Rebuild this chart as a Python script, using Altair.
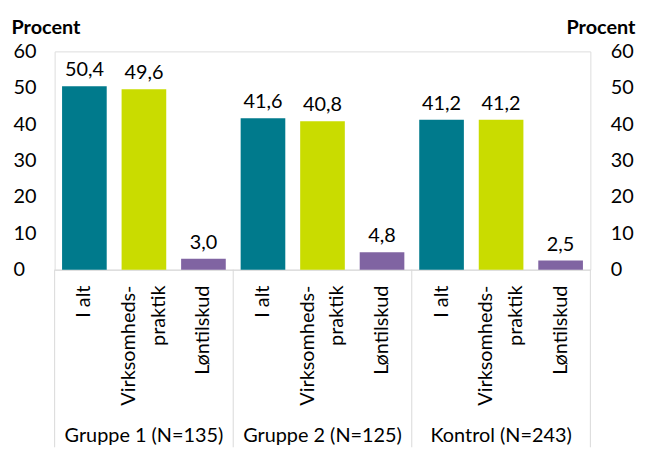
import altair as alt
import pandas as pd

groups = ["Gruppe 1 (N=135)", "Gruppe 2 (N=125)", "Kontrol (N=243)"]
subcats = ["I alt", "Virksomheds-\npraktik", "Løntilskud"]
values_g1 = [50.4, 49.6, 3.0]
values_g2 = [41.6, 40.8, 4.8]
values_g3 = [41.2, 41.2, 2.5]
colors = ["#007A8C", "#C9DC00", "#8064A2"]
y_ticks = [0, 10, 20, 30, 40, 50, 60]

rows = []
for gi, (g, vals) in enumerate(zip(groups, [values_g1, values_g2, values_g3])):
    for si, (s, v) in enumerate(zip(subcats, vals)):
        rows.append({"key": f"{gi}-{si}", "group": g, "sub": s, "value": v,
                     "label": f"{v:.1f}".replace(".", ",")})
df = pd.DataFrame(rows)
keys = list(df["key"])

grp_df = pd.DataFrame({"group": groups, "pos": [i + 0.5 for i in range(len(groups))]})
sep_df = pd.DataFrame({"b": list(range(len(groups) + 1))})

W, H = 540, 220
BOTTOM = 179
FONT = "Lato"
FS = 20
GRAY = "#D9D9D9"

xscale = alt.Scale(domain=keys, paddingInner=0.25, paddingOuter=0.125)
yscale = alt.Scale(domain=[0, 60], nice=False)
qscale = alt.Scale(domain=[0, len(groups)], nice=False, zero=False)

left_axis = alt.Axis(values=y_ticks, orient="left", grid=False, ticks=False, tickSize=0,
                     domain=False, labelAlign="left", labelPadding=42, labelFontSize=FS,
                     labelColor="black", labelFont=FONT,
                     title="Procent", titleAngle=0, titleAlign="left",
                     titleBaseline="alphabetic", titleX=-44, titleY=-18,
                     titleFontSize=FS, titleFontWeight="bold", titleColor="black",
                     titleFont=FONT)
right_axis = alt.Axis(values=y_ticks, orient="right", grid=False, ticks=False, tickSize=0,
                      domain=False, labelAlign="left", labelPadding=20, labelFontSize=FS,
                      labelColor="black", labelFont=FONT,
                      title="Procent", titleAngle=0, titleAlign="right",
                      titleBaseline="alphabetic", titleX=45, titleY=-18,
                      titleFontSize=FS, titleFontWeight="bold", titleColor="black",
                      titleFont=FONT)

bars = alt.Chart(df).mark_bar().encode(
    x=alt.X("key:N", scale=xscale, sort=keys,
            axis=alt.Axis(labels=False, ticks=False, title=None, domainColor=GRAY,
                          domainWidth=1, grid=False)),
    y=alt.Y("value:Q", scale=yscale, axis=left_axis),
    color=alt.Color("sub:N", scale=alt.Scale(domain=subcats, range=colors), legend=None),
)

vlabels = alt.Chart(df).mark_text(dy=-10, baseline="alphabetic", fontSize=FS,
                                  font=FONT, color="black").encode(
    x=alt.X("key:N", scale=xscale, sort=keys, axis=None),
    y=alt.Y("value:Q", scale=yscale, axis=right_axis),
    text="label:N",
)

sub_single = alt.Chart(df).transform_filter(
    "indexof(datum.sub, '\\n') < 0"
).mark_text(angle=270, align="right", baseline="middle", fontSize=FS,
            font=FONT, color="black").encode(
    x=alt.X("key:N", scale=xscale, sort=keys, axis=None),
    y=alt.value(H + 16),
    text="sub:N",
)

sub_multi = alt.Chart(df).transform_filter(
    "indexof(datum.sub, '\\n') >= 0"
).mark_text(angle=270, align="right", baseline="middle", lineBreak="\n",
            lineHeight=30, dy=-15, fontSize=FS, font=FONT, color="black").encode(
    x=alt.X("key:N", scale=xscale, sort=keys, axis=None),
    y=alt.value(H + 16),
    text="sub:N",
)

seps = alt.Chart(sep_df).mark_rule(color=GRAY, strokeWidth=1).encode(
    x=alt.X("b:Q", scale=qscale, axis=None),
    y=alt.value(H),
    y2=alt.value(H + BOTTOM),
)

glabels = alt.Chart(grp_df).mark_text(baseline="alphabetic", align="center",
                                      fontSize=FS, font=FONT, color="black").encode(
    x=alt.X("pos:Q", scale=qscale, axis=None),
    y=alt.value(H + 174),
    text="group:N",
)

chart = alt.layer(seps, bars, vlabels, sub_single, sub_multi, glabels).resolve_scale(
    x="independent"
).resolve_axis(
    y="independent", x="independent"
).properties(
    width=W, height=H,
    padding={"left": 47, "top": 42, "right": 47, "bottom": BOTTOM},
    autosize=alt.AutoSizeParams(type="none"),
).configure_view(stroke=None).configure(background="white")

chart.save("out.html", embed_options={"renderer": "svg", "actions": False})
